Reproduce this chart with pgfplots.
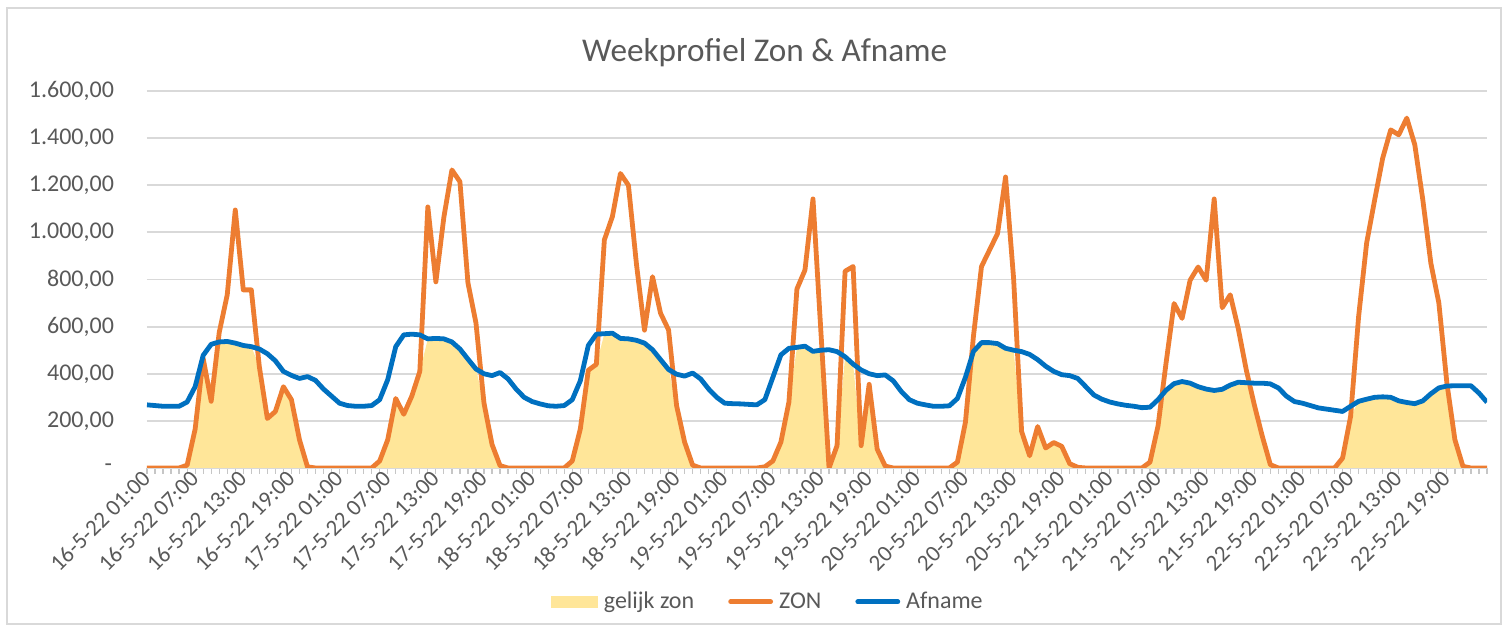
\documentclass[border=0pt]{standalone}
\usepackage{fontspec}
\setmainfont{Carlito}
\usepackage{pgfplots}
\pgfplotsset{compat=1.18}
\usepackage{pgfplotstable}

\definecolor{zonc}{HTML}{ED7D31}
\definecolor{afnc}{HTML}{0070C0}
\definecolor{gelc}{HTML}{FFE699}
\definecolor{gridc}{HTML}{D9D9D9}
\definecolor{txtc}{HTML}{595959}

% uurwaarden 16-5-22 01:00 t/m 23-5-22 00:00
\pgfplotstableread{
t zon afname gelijk
0 0 268 0
1 0 265 0
2 0 262 0
3 0 262 0
4 0 262 0
5 12 280 12
6 165 345 165
7 465 478 465
8 283 525 283
9 575 535 535
10 735 537 537
11 1095 530 530
12 756 520 520
13 756 515 515
14 430 505 430
15 210 485 210
16 240 455 240
17 345 410 345
18 290 393 290
19 120 380 120
20 5 388 5
21 0 372 0
22 0 335 0
23 0 305 0
24 0 275 0
25 0 265 0
26 0 262 0
27 0 262 0
28 0 265 0
29 30 290 30
30 120 375 120
31 295 515 295
32 228 565 228
33 305 568 305
34 410 565 410
35 1108 548 548
36 790 550 550
37 1065 548 548
38 1265 535 535
39 1215 505 505
40 785 462 462
41 615 420 420
42 275 400 275
43 100 392 100
44 10 405 10
45 0 378 0
46 0 335 0
47 0 300 0
48 0 282 0
49 0 272 0
50 0 264 0
51 0 262 0
52 0 265 0
53 30 290 30
54 165 370 165
55 415 520 415
56 440 568 440
57 968 570 570
58 1067 572 572
59 1250 550 550
60 1200 548 548
61 865 542 542
62 585 530 530
63 812 502 502
64 657 460 460
65 586 418 418
66 265 398 265
67 110 390 110
68 12 403 12
69 0 378 0
70 0 335 0
71 0 300 0
72 0 275 0
73 0 273 0
74 0 272 0
75 0 270 0
76 0 268 0
77 5 290 5
78 30 385 30
79 110 480 110
80 280 508 280
81 760 512 512
82 840 517 517
83 1142 495 495
84 570 500 500
85 0 502 0
86 95 494 95
87 835 472 472
88 855 441 441
89 95 416 95
90 355 400 355
91 80 392 80
92 8 395 8
93 0 370 0
94 0 325 0
95 0 290 0
96 0 275 0
97 0 268 0
98 0 262 0
99 0 262 0
100 0 264 0
101 25 295 25
102 195 385 195
103 560 495 495
104 855 532 532
105 925 532 532
106 995 528 528
107 1235 508 508
108 805 500 500
109 155 494 155
110 52 482 52
111 176 460 176
112 85 432 85
113 108 410 108
114 92 396 92
115 18 392 18
116 3 380 3
117 0 345 0
118 0 310 0
119 0 292 0
120 0 280 0
121 0 272 0
122 0 266 0
123 0 262 0
124 0 256 0
125 25 258 25
126 178 290 178
127 445 330 330
128 698 358 358
129 635 367 367
130 797 360 360
131 853 345 345
132 797 335 335
133 1142 329 329
134 680 334 334
135 735 352 352
136 592 364 364
137 416 362 362
138 268 360 268
139 134 360 134
140 14 357 14
141 0 340 0
142 0 305 0
143 0 282 0
144 0 275 0
145 0 265 0
146 0 255 0
147 0 250 0
148 0 245 0
149 42 240 42
150 219 262 219
151 643 283 283
152 955 292 292
153 1138 300 300
154 1315 302 302
155 1435 300 300
156 1414 285 285
157 1485 278 278
158 1372 273 273
159 1138 285 285
160 870 315 315
161 700 340 340
162 360 348 348
163 120 349 120
164 7 349 7
165 0 349 0
166 0 318 0
167 0 279 0
}\weekdata

\begin{document}
\begin{tikzpicture}
\begin{axis}[
  at={(0,0)}, anchor=south west,
  scale only axis, width=670pt, height=188.5pt,
  xmin=0, xmax=167, ymin=0, ymax=1600,
  axis lines*=left,
  y axis line style={draw=none},
  x axis line style={draw=gridc, line width=0.9pt, -},
  ytick={0,200,...,1600},
  yticklabels={{-\kern1pt},{200,00},{400,00},{600,00},{800,00},{1.000,00},{1.200,00},{1.400,00},{1.600,00}},
  ytick style={draw=none},
  yticklabel style={anchor=east, xshift=-10pt},
  xtick={0,6,...,162},
  xticklabels={16-5-22 01:00,16-5-22 07:00,16-5-22 13:00,16-5-22 19:00,
    17-5-22 01:00,17-5-22 07:00,17-5-22 13:00,17-5-22 19:00,
    18-5-22 01:00,18-5-22 07:00,18-5-22 13:00,18-5-22 19:00,
    19-5-22 01:00,19-5-22 07:00,19-5-22 13:00,19-5-22 19:00,
    20-5-22 01:00,20-5-22 07:00,20-5-22 13:00,20-5-22 19:00,
    21-5-22 01:00,21-5-22 07:00,21-5-22 13:00,21-5-22 19:00,
    22-5-22 01:00,22-5-22 07:00,22-5-22 13:00,22-5-22 19:00},
  minor xtick={0,...,167},
  tick align=outside,
  major tick length=3pt, minor tick length=3pt,
  xtick style={draw=gray!45, line width=0.6pt},
  minor tick style={draw=gray!45, line width=0.6pt},
  xticklabel style={rotate=45, anchor=east, xshift=3pt, yshift=0pt,
    font=\fontsize{11.5}{13}\selectfont},
  tick label style={font=\fontsize{12}{14}\selectfont, text=txtc},
  ymajorgrids, grid style={gridc, line width=0.9pt},
  title={Weekprofiel Zon \& Afname},
  title style={at={(0.461,1)}, anchor=center, yshift=13pt,
    font=\fontsize{16.6}{20}\selectfont, text=txtc},
  legend style={at={(0.464,-0.355)}, anchor=center, draw=none, fill=none,
    legend columns=3, font=\fontsize{12}{14}\selectfont, text=txtc,
    /tikz/every even column/.append style={column sep=15pt},
    /tikz/every odd column/.append style={column sep=1pt}},
  legend cell align=left,
]
\addplot[fill=gelc, draw=none,
  legend image code/.code={\fill[gelc] (0pt,-3pt) rectangle (23.5pt,3pt);}]
  table[x=t, y=gelijk] {\weekdata} \closedcycle;
\addlegendentry{gelijk zon}
\addplot[zonc, line width=2.4pt, line join=round, mark=none,
  legend image code/.code={\draw[zonc, line width=2.4pt, line cap=round] (0pt,0pt) -- (20pt,0pt);}]
  table[x=t, y=zon] {\weekdata};
\addlegendentry{ZON}
\addplot[afnc, line width=2.4pt, line join=round, mark=none,
  legend image code/.code={\draw[afnc, line width=2.4pt, line cap=round] (0pt,0pt) -- (20pt,0pt);}]
  table[x=t, y=afname] {\weekdata};
\addlegendentry{Afname}
\end{axis}
\draw[gridc, line width=0.75pt] (-70pt,-78pt) rectangle (677pt,230pt);
\path[use as bounding box] (-73.5pt,-81.5pt) rectangle (679.5pt,234pt);
\end{tikzpicture}
\end{document}
